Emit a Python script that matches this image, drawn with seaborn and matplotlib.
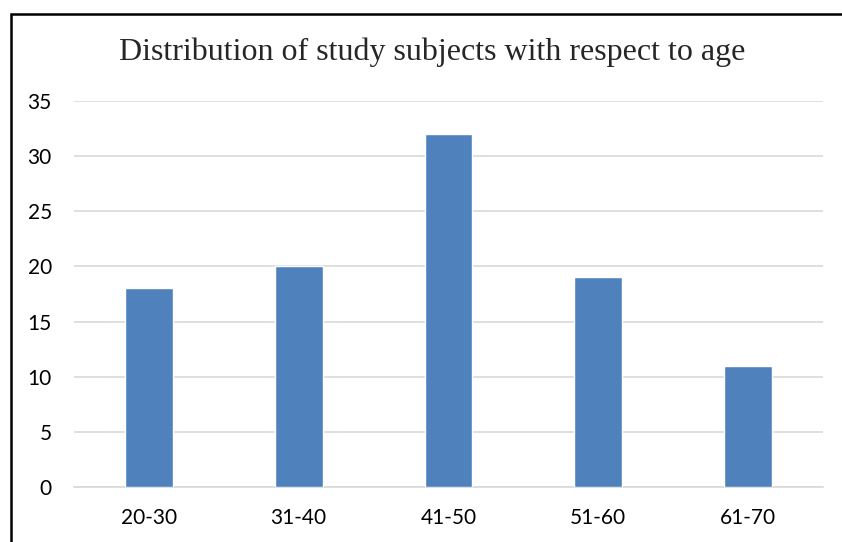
import matplotlib
matplotlib.use("Agg")
import matplotlib.pyplot as plt
import seaborn as sns
import pandas as pd
from matplotlib.patches import Rectangle

# Data
age_groups = ["20-30", "31-40", "41-50", "51-60", "61-70"]
subjects = [18, 20, 32, 19, 11]
y_ticks = [0, 5, 10, 15, 20, 25, 30, 35]

df = pd.DataFrame({"age": age_groups, "count": subjects})

sns.set_style("white")
plt.rcParams["font.family"] = ["Lato", "DejaVu Sans"]

W, H = 842, 542
fig = plt.figure(figsize=(W / 100, H / 100), dpi=100)
ax = fig.add_axes([74 / W, (H - 487) / H, (823 - 74) / W, (487 - 101) / H])

sns.barplot(data=df, x="age", y="count", color="#4F81BD", saturation=1,
            width=0.32, ax=ax, zorder=3)

ax.set_ylim(0, 35)
ax.set_yticks(y_ticks)
ax.yaxis.grid(True, color="#D9D9D9", linewidth=1.2, zorder=0)
ax.set_axisbelow(True)
for s in ["top", "right", "left"]:
    ax.spines[s].set_visible(False)
ax.spines["bottom"].set_color("#D9D9D9")
ax.spines["bottom"].set_linewidth(1.2)
ax.tick_params(axis="both", length=0, labelsize=15, colors="#000000")
ax.tick_params(axis="y", pad=16)
ax.tick_params(axis="x", pad=15)
ax.set_xlabel("")
ax.set_ylabel("")

fig.text(432 / W, (H - 52) / H,
         "Distribution of study subjects with respect to age",
         ha="center", va="center", fontsize=23, family="Liberation Serif")

# outer frame of the chart (right and bottom edges fall outside the image)
fig.patches.append(Rectangle((10.5 / W, -0.1), 0.99, (H - 13.5) / H + 0.1,
                             transform=fig.transFigure, fill=False,
                             edgecolor="black", linewidth=1.8))

fig.savefig("out.png", dpi=100)
